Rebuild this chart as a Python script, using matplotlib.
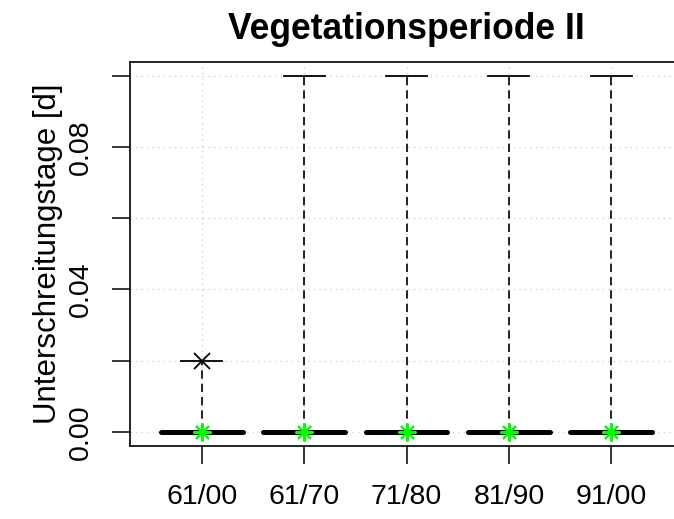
import matplotlib
matplotlib.use('Agg')
import matplotlib.pyplot as plt

plt.rcParams['font.family'] = ['Liberation Sans', 'DejaVu Sans']

# Data
categories = ['61/00', '61/70', '71/80', '81/90', '91/00']
q1 = [0.0, 0.0, 0.0, 0.0, 0.0]
medians = [0.0, 0.0, 0.0, 0.0, 0.0]
q3 = [0.0, 0.0, 0.0, 0.0, 0.0]
whisker_low = [0.0, 0.0, 0.0, 0.0, 0.0]
whisker_high = [0.02, 0.1, 0.1, 0.1, 0.1]
means = [0.0, 0.0, 0.0, 0.0, 0.0]
outliers = [[0.02], [], [], [], []]
yticks = [0.0, 0.02, 0.04, 0.06, 0.08, 0.10]
ytick_labels = ['0.00', '', '0.04', '', '0.08', '']

stats = []
for i, name in enumerate(categories):
    stats.append({'label': name, 'q1': q1[i], 'med': medians[i], 'q3': q3[i],
                  'whislo': whisker_low[i], 'whishi': whisker_high[i],
                  'mean': means[i], 'fliers': outliers[i]})

fig = plt.figure(figsize=(6.74, 5.19), dpi=100)
ax = fig.add_axes([130 / 674, 1 - 446.2 / 519, 553 / 674, 384.7 / 519])

positions = list(range(1, len(categories) + 1))

# grid first, behind the boxes
for p in positions:
    ax.axvline(p, color='#D3D3D3', lw=1.0, ls=(0, (1, 3)), zorder=0)
for t in yticks:
    ax.axhline(t, color='#D3D3D3', lw=1.0, ls=(0, (1, 3)), zorder=0)

ax.bxp(stats, positions=positions, widths=0.8, showmeans=True,
       boxprops=dict(color='black', lw=1.0),
       medianprops=dict(color='black', lw=3.6, solid_capstyle='round'),
       whiskerprops=dict(color='black', lw=1.2, ls=(0, (5, 3))),
       capprops=dict(color='black', lw=1.3),
       flierprops=dict(marker='x', markersize=11, markeredgecolor='black',
                       markeredgewidth=1.3),
       meanprops=dict(marker=(8, 2, 0), markersize=13, markeredgecolor='#00FF00',
                      markerfacecolor='#00FF00', markeredgewidth=1.5),
       manage_ticks=False)

ax.set_xlim(0.3, 5.7)
ax.set_ylim(-0.004, 0.104)

ax.set_xticks(positions)
ax.set_xticklabels(categories, fontsize=20.5)
ax.set_yticks(yticks)
ax.set_yticklabels(ytick_labels, fontsize=20.5, rotation=90, va='center')
ax.tick_params(axis='both', length=13, width=1.1, color='black')
ax.tick_params(axis='x', pad=14)
ax.tick_params(axis='y', pad=13)

ax.spines['right'].set_visible(False)
for s in ['left', 'top', 'bottom']:
    ax.spines[s].set_linewidth(1.2)

ax.set_title('Vegetationsperiode II', fontsize=25.6, fontweight='bold', pad=16.5)
fig.text(48 / 674, 1 - 254 / 519, 'Unterschreitungstage [d]', fontsize=22.5,
         rotation=90, ha='center', va='center')

fig.savefig('out.png', dpi=100)
